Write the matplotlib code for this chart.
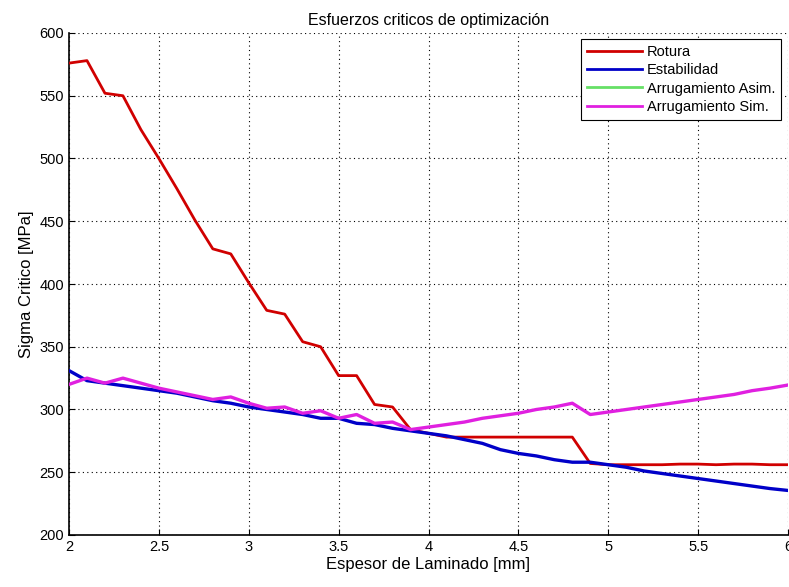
import matplotlib
matplotlib.use("Agg")
import matplotlib.pyplot as plt
import numpy as np

plt.rcParams['font.family'] = ['Liberation Sans Narrow', 'Liberation Sans', 'DejaVu Sans']

espesor = [2.0, 2.1, 2.2, 2.3, 2.4, 2.5, 2.6, 2.7, 2.8, 2.9,
           3.0, 3.1, 3.2, 3.3, 3.4, 3.5, 3.6, 3.7, 3.8, 3.9,
           4.0, 4.1, 4.2, 4.3, 4.4, 4.5, 4.6, 4.7, 4.8, 4.9,
           5.0, 5.1, 5.2, 5.3, 5.4, 5.5, 5.6, 5.7, 5.8, 5.9, 6.0]

rotura = [576, 578, 552, 550, 523, 500, 476, 451, 428, 424,
          401, 379, 376, 354, 350, 327, 327, 304, 302, 284,
          281, 278, 278, 278, 278, 278, 278, 278, 278, 257,
          256, 256, 256, 256, 256.5, 256.5, 256, 256.5, 256.5, 256, 256]

estabilidad = [331, 323, 321, 319, 317, 315, 313, 310, 307, 305,
               302, 300, 298, 296, 293, 293, 289, 288, 285, 283,
               281, 279, 276, 273, 268, 265, 263, 260, 258, 258,
               256, 254, 251, 249, 247, 245, 243, 241, 239, 237, 235.5]

arrug_asim = [320, 325, 321, 325, 321, 317, 314, 311, 308, 310,
              305, 301, 302, 297, 299, 293, 296, 289, 290, 284,
              286, 288, 290, 293, 295, 297, 300, 302, 305, 296,
              298, 300, 302, 304, 306, 308, 310, 312, 315, 317, 319.5]

arrug_sim = [320, 325, 321, 325, 321, 317, 314, 311, 308, 310,
             305, 301, 302, 297, 299, 293, 296, 289, 290, 284,
             286, 288, 290, 293, 295, 297, 300, 302, 305, 296,
             298, 300, 302, 304, 306, 308, 310, 312, 315, 317, 319.5]

xticks = [2, 2.5, 3, 3.5, 4, 4.5, 5, 5.5, 6]
xticklabels = ['2', '2.5', '3', '3.5', '4', '4.5', '5', '5.5', '6']
yticks = [200, 250, 300, 350, 400, 450, 500, 550, 600]

fig = plt.figure(figsize=(7.89, 5.87), dpi=100)
ax = fig.add_axes([69/789, 1-535/587, (788-69)/789, (535-33)/587])

ax.plot(espesor, rotura, color='#d00000', lw=2.0, label='Rotura', zorder=3)
ax.plot(espesor, estabilidad, color='#0000c8', lw=2.4, label='Estabilidad', zorder=4)
ax.plot(espesor, arrug_asim, color='#66e066', lw=1.0, label='Arrugamiento Asim.', zorder=4)
ax.plot(espesor, arrug_sim, color='#e020e0', lw=2.4, label='Arrugamiento Sim.', zorder=5)

ax.set_xlim(2, 6)
ax.set_ylim(200, 600)
ax.set_xticks(xticks)
ax.set_xticklabels(xticklabels)
ax.set_yticks(yticks)
ax.grid(True, color='black', linestyle=(0, (1, 3)), linewidth=0.8)
ax.tick_params(direction='in', length=4, labelsize=10.5, colors='black')
ax.spines['top'].set_visible(False)
ax.spines['right'].set_visible(False)
ax.spines['left'].set_linewidth(1.2)
ax.spines['bottom'].set_linewidth(1.2)

ax.set_title('Esfuerzos criticos de optimización', fontsize=11.5, pad=6)
ax.set_xlabel('Espesor de Laminado [mm]', fontsize=12, labelpad=2)
ax.set_ylabel('Sigma Critico [MPa]', fontsize=12, labelpad=4)

leg = ax.legend(loc='upper right', bbox_to_anchor=(781/789, 1-39/587), bbox_transform=fig.transFigure,
                fontsize=10.5, frameon=True, fancybox=False, framealpha=1, edgecolor='black',
                handlelength=3.8, handletextpad=0.3, borderpad=0.4, labelspacing=0.3, borderaxespad=0)
leg.get_frame().set_linewidth(0.8)
for line in leg.get_lines():
    line.set_linewidth(2.0)

fig.savefig('out.png', dpi=100)
